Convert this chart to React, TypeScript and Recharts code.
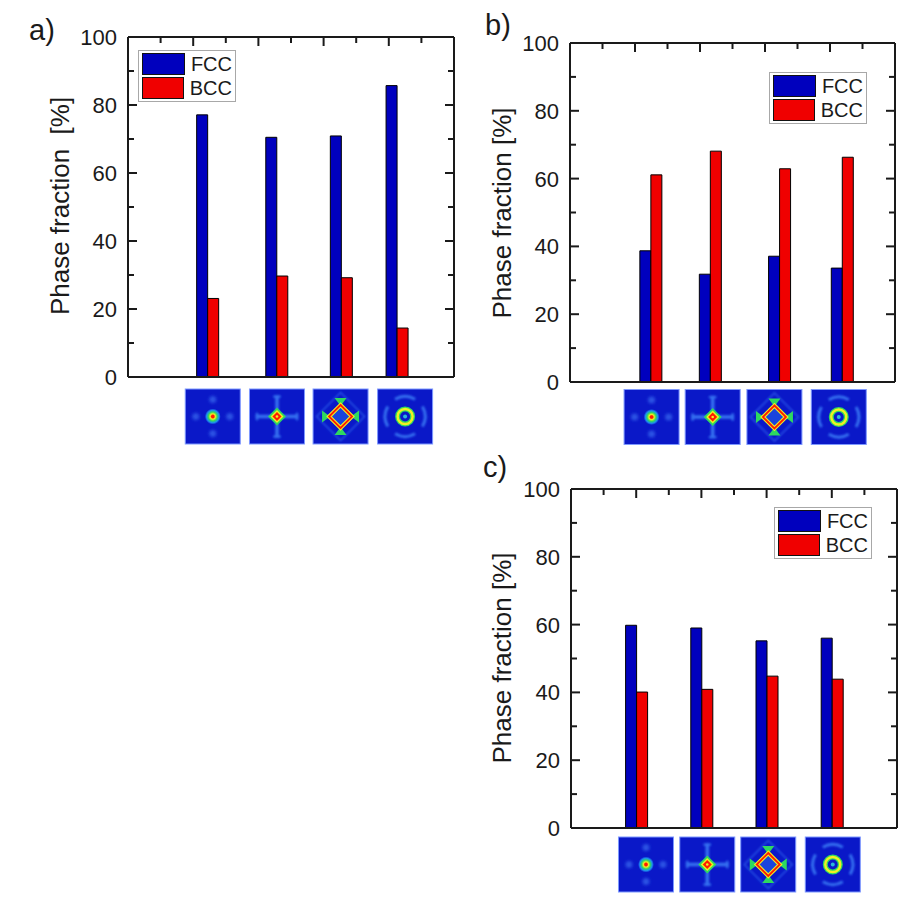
import { ComposedChart, Bar, XAxis, YAxis, Legend, ReferenceLine } from 'recharts';

// phase fractions [%]
const fccA = [77.1, 70.5, 70.9, 85.7];
const bccA = [23.1, 29.7, 29.2, 14.4];
const fccB = [38.7, 31.8, 37.1, 33.6];
const bccB = [61.1, 68.1, 62.9, 66.3];
const fccC = [59.8, 59.0, 55.2, 56.0];
const bccC = [40.1, 40.9, 44.8, 43.9];

// group positions on the (hidden) 0..10 x scale
const barXA = [2.44, 4.56, 6.54, 8.25];
const barXB = [2.48, 4.31, 6.44, 8.37];
const barXC = [2.0, 4.0, 6.0, 8.0];
// where the diffraction thumbnails sit under each panel
const imgXA = [2.6, 4.57, 6.52, 8.5];
const imgXB = [2.51, 4.39, 6.29, 8.27];
const imgXC = [2.3, 4.18, 6.05, 8.03];

const yTicks = [0, 10, 20, 30, 40, 50, 60, 70, 80, 90, 100];
const topTicks = [1, 2, 3, 4, 5, 6, 7, 8, 9];
const legendOrder = ['FCC', 'BCC'];

const FCC_COLOR = '#0000be';
const BCC_COLOR = '#f00000';
const INK = '#1a1a1a';
const TICK = '#1a1a1a';
const axisStyle = { stroke: TICK, strokeWidth: 2 };
const FONT = '"Liberation Sans", Arial, Helvetica, sans-serif';

const LeftLabel = (p: any) => {
  const v = p.payload.value;
  if (v % 20 !== 0) return <g />;
  return (
    <text x={p.x - 11} y={p.y} dy="0.36em" textAnchor="end" fontSize={22} fill={INK}>
      {v}
    </text>
  );
};

const BG = '#0a18c8';
const GLOW = '#3470f0';
const GREEN = '#2fd860';
const YELLOW = '#f2f020';
const RED = '#ff1c00';

const diamond = (c: number, r: number) => `${c},${c - r} ${c + r},${c} ${c},${c + r} ${c - r},${c}`;

function Pattern({ kind }: { kind: number }) {
  const s = 55;
  const c = s / 2;
  const sides = [0, 90, 180, 270];
  let body: any = null;
  if (kind === 0) {
    body = (
      <g>
        {sides.map((a) => (
          <circle
            key={a}
            cx={c + 17 * Math.cos((a * Math.PI) / 180)}
            cy={c + 17 * Math.sin((a * Math.PI) / 180)}
            r={3.5}
            fill="#2a52e4"
            filter="url(#dfBlur2)"
          />
        ))}
        <circle cx={c} cy={c} r={8} fill="url(#dfSpot)" />
      </g>
    );
  } else if (kind === 1) {
    body = (
      <g>
        <g filter="url(#dfBlur1)">
          <rect x={c - 21} y={c - 1.8} width={42} height={3.6} fill={GLOW} />
          <rect x={c - 1.8} y={c - 21} width={3.6} height={42} fill={GLOW} />
          {sides.map((a) => (
            <ellipse
              key={a}
              cx={c + 20 * Math.cos((a * Math.PI) / 180)}
              cy={c + 20 * Math.sin((a * Math.PI) / 180)}
              rx={a % 180 === 0 ? 1.5 : 4}
              ry={a % 180 === 0 ? 4 : 1.5}
              fill={GLOW}
            />
          ))}
        </g>
        <g filter="url(#dfBlur05)">
          <polygon points={diamond(c, 9)} fill={GREEN} />
          <polygon points={diamond(c, 6.5)} fill={YELLOW} />
          <polygon points={diamond(c, 4.5)} fill={RED} />
          <circle cx={c} cy={c} r={1.3} fill={YELLOW} />
        </g>
      </g>
    );
  } else if (kind === 2) {
    const r = 11.5;
    body = (
      <g>
        <polygon points={diamond(c, 24)} fill="none" stroke="#2b56e6" strokeWidth={1.4} filter="url(#dfBlur1)" />
        <polygon points={diamond(c, r)} fill="#1a44dc" />
        <g filter="url(#dfBlur05)">
          <polygon points={`${c},${c - r + 1} ${c - 6},${c - r - 7} ${c + 6},${c - r - 7}`} fill={GREEN} />
          <polygon points={`${c},${c + r - 1} ${c - 6},${c + r + 7} ${c + 6},${c + r + 7}`} fill={GREEN} />
          <polygon points={`${c - r + 1},${c} ${c - r - 7},${c - 6} ${c - r - 7},${c + 6}`} fill={GREEN} />
          <polygon points={`${c + r - 1},${c} ${c + r + 7},${c - 6} ${c + r + 7},${c + 6}`} fill={GREEN} />
          <polygon points={diamond(c, r)} fill="none" stroke={YELLOW} strokeWidth={4} />
          <polygon points={diamond(c, r)} fill="none" stroke={RED} strokeWidth={1.8} />
        </g>
      </g>
    );
  } else {
    body = (
      <g>
        <g filter="url(#dfBlur1)">
          {sides.map((a) => {
            const r = 20;
            const a1 = ((a - 30) * Math.PI) / 180;
            const a2 = ((a + 30) * Math.PI) / 180;
            return (
              <path
                key={a}
                d={`M${c + r * Math.cos(a1)},${c + r * Math.sin(a1)} A${r},${r} 0 0 1 ${c + r * Math.cos(a2)},${c + r * Math.sin(a2)}`}
                fill="none"
                stroke={GLOW}
                strokeWidth={3}
              />
            );
          })}
        </g>
        <g filter="url(#dfBlur05)">
          <circle cx={c} cy={c} r={7.5} fill="none" stroke={GREEN} strokeWidth={5} />
          <circle cx={c} cy={c} r={7.5} fill="none" stroke={YELLOW} strokeWidth={2.4} />
          <circle cx={c} cy={c} r={2} fill="#2ab8d8" />
        </g>
      </g>
    );
  }
  return (
    <g>
      <rect x={0} y={0} width={s} height={s} fill={BG} />
      {body}
      <rect x={0} y={0} width={s} height={s} fill="none" stroke="#7d98ff" strokeWidth={1} />
    </g>
  );
}

const PatternDefs = () => (
  <defs>
    <filter id="dfBlur05" x="-50%" y="-50%" width="200%" height="200%">
      <feGaussianBlur stdDeviation="0.5" />
    </filter>
    <filter id="dfBlur1" x="-50%" y="-50%" width="200%" height="200%">
      <feGaussianBlur stdDeviation="1" />
    </filter>
    <filter id="dfBlur2" x="-50%" y="-50%" width="200%" height="200%">
      <feGaussianBlur stdDeviation="1.8" />
    </filter>
    <radialGradient id="dfSpot">
      <stop offset="0%" stopColor={RED} />
      <stop offset="16%" stopColor={RED} />
      <stop offset="32%" stopColor={YELLOW} />
      <stop offset="55%" stopColor={GREEN} />
      <stop offset="78%" stopColor="#1c8ef0" />
      <stop offset="100%" stopColor={BG} />
    </radialGradient>
  </defs>
);

const ImgTick = (p: any) => (
  <g transform={`translate(${p.x - 27.5},${p.y + p.gap})`}>
    <PatternDefs />
    <Pattern kind={p.index} />
  </g>
);

const AxisTitle = (p: any) => (
  <text
    x={p.bx}
    y={p.cy}
    transform={`rotate(-90 ${p.bx} ${p.cy})`}
    textAnchor="middle"
    fontSize={26}
    fill={INK}
    style={{ whiteSpace: 'pre' }}
  >
    {p.txt}
  </text>
);

const LegendBox = (p: any) => {
  const items = [...(p.payload || [])]
    .filter((e: any) => legendOrder.includes(e.value))
    .sort((a: any, b: any) => legendOrder.indexOf(a.value) - legendOrder.indexOf(b.value));
  return (
    <div
      style={{
        boxSizing: 'border-box',
        width: 98,
        border: '1px solid #a8a8a8',
        background: '#fff',
        padding: '2px 3px',
        fontFamily: FONT,
      }}
    >
      {items.map((e: any, i: number) => (
        <div key={e.value} style={{ display: 'flex', alignItems: 'center', height: 22, marginTop: i ? 2 : 0 }}>
          <div style={{ boxSizing: 'border-box', width: 44, height: 22, background: e.color, border: '1.5px solid #111' }} />
          <span style={{ marginLeft: 6, fontSize: 20, color: INK, lineHeight: '22px' }}>{e.value}</span>
        </div>
      ))}
    </div>
  );
};

type PanelProps = {
  left: number;
  top: number;
  frame: { l: number; t: number; r: number; b: number };
  fcc: number[];
  bcc: number[];
  barX: number[];
  imgX: number[];
  imgGap: number;
  legend: { x: number; y: number };
  title: string;
  titlePos: { bx: number; cy: number };
  letter: string;
  letterPos: { x: number; y: number };
};

const W = 460;
const H = 450;
const MAJOR_LEN = 9;
const MINOR_LEN = 6;

function Panel(props: PanelProps) {
  const { frame, fcc, bcc, barX, imgX } = props;
  const data = barX.map((x, i) => ({ x, FCC: fcc[i], BCC: bcc[i] }));
  // pixel lengths of the inward tick marks, expressed in axis units
  const yPerPx = 100 / (frame.b - frame.t);
  const xPerPx = 10 / (frame.r - frame.l);
  const tickSeg = (len: number) => ({ dy: len * yPerPx, dx: len * xPerPx });
  return (
    <div style={{ position: 'absolute', left: props.left, top: props.top, width: W, height: H }}>
      <div
        style={{
          position: 'absolute',
          left: props.letterPos.x,
          top: props.letterPos.y - 24.5,
          fontSize: 29,
          lineHeight: '29px',
          color: INK,
        }}
      >
        {props.letter}
      </div>
      <ComposedChart
        width={W}
        height={H}
        data={data}
        barGap={0}
        margin={{ top: frame.t - 1, left: 0, right: W - frame.r - 1, bottom: 0 }}
      >
        <XAxis
          xAxisId="b"
          dataKey="x"
          type="number"
          domain={[0, 10]}
          allowDataOverflow
          ticks={imgX}
          interval={0}
          height={H - frame.b}
          tickSize={0}
          tickMargin={0}
          tickLine={false}
          axisLine={axisStyle}
          tick={(p: any) => <ImgTick {...p} gap={props.imgGap} />}
        />
        <XAxis
          xAxisId="t"
          dataKey="x"
          orientation="top"
          type="number"
          domain={[0, 10]}
          allowDataOverflow
          height={1}
          tick={false}
          tickLine={false}
          axisLine={axisStyle}
        />
        <YAxis
          yAxisId="l"
          type="number"
          domain={[0, 100]}
          allowDataOverflow
          ticks={yTicks}
          interval={0}
          width={frame.l}
          tickSize={0}
          tickMargin={0}
          tickLine={false}
          axisLine={axisStyle}
          tick={LeftLabel}
          label={<AxisTitle bx={props.titlePos.bx} cy={props.titlePos.cy} txt={props.title} />}
        />
        <YAxis
          yAxisId="r"
          orientation="right"
          type="number"
          domain={[0, 100]}
          allowDataOverflow
          width={1}
          tick={false}
          tickLine={false}
          axisLine={axisStyle}
        />
        <Bar
          xAxisId="b"
          yAxisId="l"
          dataKey="FCC"
          name="FCC"
          fill={FCC_COLOR}
          stroke="#000"
          strokeWidth={1}
          barSize={11}
          isAnimationActive={false}
        />
        <Bar
          xAxisId="b"
          yAxisId="l"
          dataKey="BCC"
          name="BCC"
          fill={BCC_COLOR}
          stroke="#000"
          strokeWidth={1}
          barSize={11}
          isAnimationActive={false}
        />
        {/* inward tick marks on the left, right and top edges of the frame */}
        {yTicks.map((v) => {
          const { dx } = tickSeg(v % 20 === 0 ? MAJOR_LEN : MINOR_LEN);
          return [
            <ReferenceLine
              key={`l${v}`}
              xAxisId="b"
              yAxisId="l"
              segment={[{ x: 0, y: v }, { x: dx, y: v }]}
              stroke={TICK}
              strokeWidth={2}
              ifOverflow="visible"
            />,
            <ReferenceLine
              key={`r${v}`}
              xAxisId="b"
              yAxisId="l"
              segment={[{ x: 10 - dx, y: v }, { x: 10, y: v }]}
              stroke={TICK}
              strokeWidth={2}
              ifOverflow="visible"
            />,
          ];
        })}
        {topTicks.map((v) => {
          const { dy } = tickSeg(v % 2 === 0 ? MAJOR_LEN : MINOR_LEN);
          return (
            <ReferenceLine
              key={`t${v}`}
              xAxisId="b"
              yAxisId="l"
              segment={[{ x: v, y: 100 }, { x: v, y: 100 - dy }]}
              stroke={TICK}
              strokeWidth={2}
              ifOverflow="visible"
            />
          );
        })}
        <Legend
          layout="horizontal"
          verticalAlign="middle"
          align="center"
          content={LegendBox}
          wrapperStyle={{ left: props.legend.x, top: props.legend.y, width: 98 }}
        />
      </ComposedChart>
    </div>
  );
}

export default function App() {
  return (
    <div
      style={{
        position: 'absolute',
        left: 0,
        top: 0,
        width: 920,
        height: 899,
        background: '#fff',
        fontFamily: FONT,
      }}
    >
      <Panel
        left={0}
        top={0}
        frame={{ l: 128, t: 37, r: 454, b: 377 }}
        fcc={fccA}
        bcc={bccA}
        barX={barXA}
        imgX={imgXA}
        imgGap={12}
        legend={{ x: 138, y: 50 }}
        title={'Phase fraction  [%]'}
        titlePos={{ bx: 68.5, cy: 206 }}
        letter="a)"
        letterPos={{ x: 29, y: 40 }}
      />
      <Panel
        left={460}
        top={0}
        frame={{ l: 110, t: 43, r: 435, b: 382 }}
        fcc={fccB}
        bcc={bccB}
        barX={barXB}
        imgX={imgXB}
        imgGap={7.5}
        legend={{ x: 309, y: 72 }}
        title="Phase fraction [%]"
        titlePos={{ bx: 50.7, cy: 213 }}
        letter="b)"
        letterPos={{ x: 25, y: 35 }}
      />
      <Panel
        left={460}
        top={450}
        frame={{ l: 111, t: 39, r: 437, b: 378 }}
        fcc={fccC}
        bcc={bccC}
        barX={barXC}
        imgX={imgXC}
        imgGap={9}
        legend={{ x: 314, y: 57 }}
        title="Phase fraction [%]"
        titlePos={{ bx: 51, cy: 208 }}
        letter="c)"
        letterPos={{ x: 23, y: 27 }}
      />
    </div>
  );
}
